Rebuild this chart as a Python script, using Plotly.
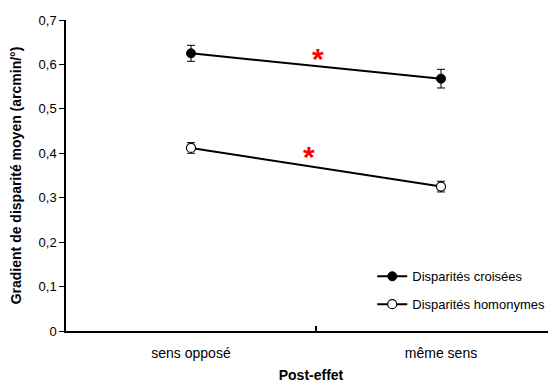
import plotly.graph_objects as go

categories = ["sens opposé", "même sens"]
x_pos = [0, 1]
croisees = [0.625, 0.568]
croisees_err = [0.018, 0.021]
homonymes = [0.412, 0.325]
homonymes_err = [0.012, 0.012]
y_ticks = [0, 0.1, 0.2, 0.3, 0.4, 0.5, 0.6, 0.7]
y_ticktext = ["0", "0,1", "0,2", "0,3", "0,4", "0,5", "0,6", "0,7"]
stars_x = [0.506, 0.470]
stars_y = [0.624, 0.404]

FONT = "Liberation Sans, Arial, sans-serif"

fig = go.Figure()
fig.add_trace(go.Scatter(
    x=x_pos, y=croisees, mode="lines+markers", name="Disparités croisées",
    legendgroup="a",
    line=dict(color="black", width=2),
    marker=dict(symbol="circle", size=9, color="black", line=dict(color="black", width=1)),
    error_y=dict(type="data", array=croisees_err, color="black", thickness=1, width=4),
))
fig.add_trace(go.Scatter(
    x=x_pos, y=homonymes, mode="lines+markers", name="Disparités homonymes",
    legendgroup="b",
    line=dict(color="black", width=2),
    marker=dict(symbol="circle", size=9, color="white", line=dict(color="black", width=1.2)),
    error_y=dict(type="data", array=homonymes_err, color="black", thickness=1, width=4),
))
for sx, sy in zip(stars_x, stars_y):
    fig.add_annotation(x=sx, y=sy, text="<b>*</b>", showarrow=False,
                       font=dict(color="red", size=30, family=FONT),
                       xanchor="center", yanchor="middle", yshift=-5)

# page has an 8px body margin: figure is sized/margined to compensate
fig.update_layout(
    width=548, height=375,
    margin=dict(l=58, r=0, t=12, b=52),
    paper_bgcolor="white", plot_bgcolor="white",
    font=dict(family=FONT, size=13, color="black"),
    legend=dict(x=0.625, y=0.224, xanchor="left", yanchor="top",
                bgcolor="rgba(0,0,0,0)", font=dict(size=13),
                traceorder="grouped", tracegroupgap=8),
    showlegend=True,
)
fig.update_xaxes(
    range=[-0.5, 1.46], tickvals=x_pos, ticktext=categories, ticks="",
    tickfont=dict(size=14),
    showline=True, linecolor="black", linewidth=1.5, showgrid=False, zeroline=False,
    minor=dict(tickvals=[0.5], ticks="inside", ticklen=5, tickcolor="black", tickwidth=1.5),
    title=dict(text="<b>Post-effet</b>", font=dict(size=14), standoff=13),
    ticklabelstandoff=8,
)
fig.update_yaxes(
    range=[0, 0.7], tickvals=y_ticks, ticktext=y_ticktext, ticks="outside",
    ticklen=5, tickcolor="black", tickwidth=1,
    showline=True, linecolor="black", linewidth=1.5, showgrid=False, zeroline=False,
    title=dict(text="<b>Gradient de disparité moyen (arcmin/°)</b>", font=dict(size=14), standoff=15),
)
fig.write_html("out.html")
